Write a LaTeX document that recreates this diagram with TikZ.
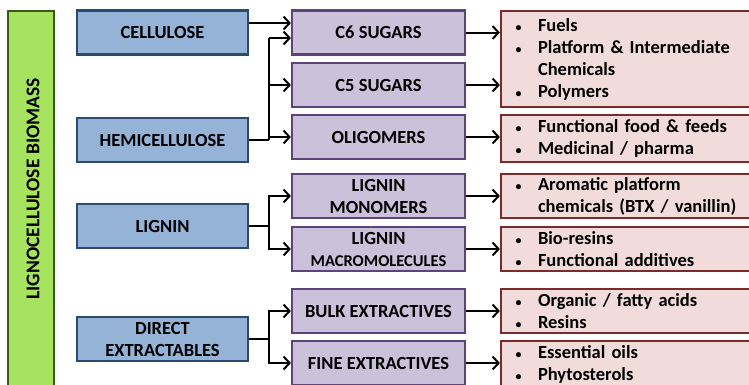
\documentclass[tikz,border=0pt]{standalone}
\usepackage{fontspec}
\setmainfont{Carlito}[BoldFont=* Bold]
\usetikzlibrary{arrows.meta}
\definecolor{gfill}{HTML}{A6E35E}
\definecolor{gline}{HTML}{3D5A1E}
\definecolor{bfill}{HTML}{95B3D7}
\definecolor{bline}{HTML}{2A4A6E}
\definecolor{pfill}{HTML}{CCC1DA}
\definecolor{pline}{HTML}{5A4478}
\definecolor{rfill}{HTML}{F2DCDB}
\definecolor{rline}{HTML}{7B2C2A}
\tikzset{
  base/.style={draw, line width=2.2pt, rectangle, inner sep=0pt, align=center,
    font=\bfseries\fontsize{18.5}{22}\selectfont},
  bluebox/.style={base, fill=bfill, draw=bline, minimum width=171pt, minimum height=44pt},
  purplebox/.style={base, fill=pfill, draw=pline, minimum width=173pt, minimum height=44pt},
  redbox/.style={base, fill=rfill, draw=rline, minimum width=262pt, text width=238pt, align=left},
  greenbox/.style={base, fill=gfill, draw=gline},
  arr/.style={line width=2pt, -{Straight Barb[length=6pt,width=13pt,line width=2pt]}},
  ln/.style={line width=2pt},
}
\newcommand{\bl}{\makebox[25pt][l]{\hspace{2.5pt}{\fontsize{12}{12}\selectfont\textbullet}}}
\newcommand{\ind}{\hspace*{25pt}}
\begin{document}
\begin{tikzpicture}[x=1pt,y=-1pt]
\clip (0,0) rectangle (749,384);
% left green bar
\node[greenbox, minimum width=46pt, minimum height=384pt] (bio) at (31,203) {};
\node[font=\bfseries\fontsize{19.5}{22}\selectfont, rotate=90] (biot) at (33,189) {LIGNOCELLULOSE BIOMASS};
% blue boxes
\node[bluebox] (cell) at (162.5,32.5) {CELLULOSE};
\node[bluebox] (hemi) at (162.5,140) {HEMICELLULOSE};
\node[bluebox] (lig) at (162.5,226) {LIGNIN};
\node[bluebox] (dir) at (162.5,339) {DIRECT\\EXTRACTABLES};
% purple boxes
\node[purplebox] (c6) at (378.5,32.5) {C6 SUGARS};
\node[purplebox] (c5) at (378.5,85) {C5 SUGARS};
\node[purplebox] (olig) at (378.5,137) {OLIGOMERS};
\node[purplebox] (mono) at (378.5,196) {LIGNIN\\MONOMERS};
\node[purplebox] (macro) at (378.5,249) {LIGNIN\\{\fontsize{16.5}{18}\selectfont MACROMOLECULES}};
\node[purplebox] (bulk) at (378.5,311) {BULK EXTRACTIVES};
\node[purplebox] (fine) at (378.5,363) {FINE EXTRACTIVES};
% red boxes
\node[redbox, minimum height=96pt] (r1) at (632,59) {\bl Fuels\\\bl Platform \& Intermediate\\\ind Chemicals\\\bl Polymers};
\node[redbox, minimum height=47pt] (r2) at (632,138.5) {\bl Functional food \& feeds\\\bl Medicinal / pharma};
\node[redbox, minimum height=44pt] (r3) at (632,196) {\bl Aromatic platform\\\ind chemicals (BTX / vanillin)};
\node[redbox, minimum height=44pt] (r4) at (632,249) {\bl Bio-resins\\\bl Functional additives};
\node[redbox, minimum height=44pt] (r5) at (632,311) {\bl Organic / fatty acids\\\bl Resins};
\node[redbox, minimum height=47pt] (r6) at (632,364.5) {\bl Essential oils\\\bl Phytosterols};
% junction x
\coordinate (jx) at (269,0);
% cellulose
\draw[arr] ([yshift=9.5pt]cell.east) -- ([yshift=9.5pt]cell.east -| c6.west);
% hemicellulose
\draw[ln] (hemi.east) -- (hemi.east -| jx);
\draw[ln] (hemi.east -| jx) -- ([yshift=-5.5pt]c6.west -| jx);
\draw[arr] ([yshift=-5.5pt]c6.west -| jx) -- ([yshift=-5.5pt]c6.west);
\draw[arr] (c5.west -| jx) -- (c5.west);
\draw[arr] (olig.west -| jx) -- (olig.west);
% lignin
\draw[ln] (lig.east) -- (lig.east -| jx);
\draw[arr] (lig.east -| jx) |- (mono.west);
\draw[arr] (lig.east -| jx) |- (macro.west);
% direct
\draw[ln] (dir.east) -- (dir.east -| jx);
\draw[arr] (dir.east -| jx) |- (bulk.west);
\draw[arr] (dir.east -| jx) |- (fine.west);
% purple to red
\draw[arr] (c6.east) -- (c6.east -| r1.west);
\draw[arr] (c5.east) -- (c5.east -| r1.west);
\draw[arr] (olig.east) -- (olig.east -| r2.west);
\draw[arr] (mono.east) -- (mono.east -| r3.west);
\draw[arr] (macro.east) -- (macro.east -| r4.west);
\draw[arr] (bulk.east) -- (bulk.east -| r5.west);
\draw[arr] (fine.east) -- (fine.east -| r6.west);
\end{tikzpicture}
\end{document}
